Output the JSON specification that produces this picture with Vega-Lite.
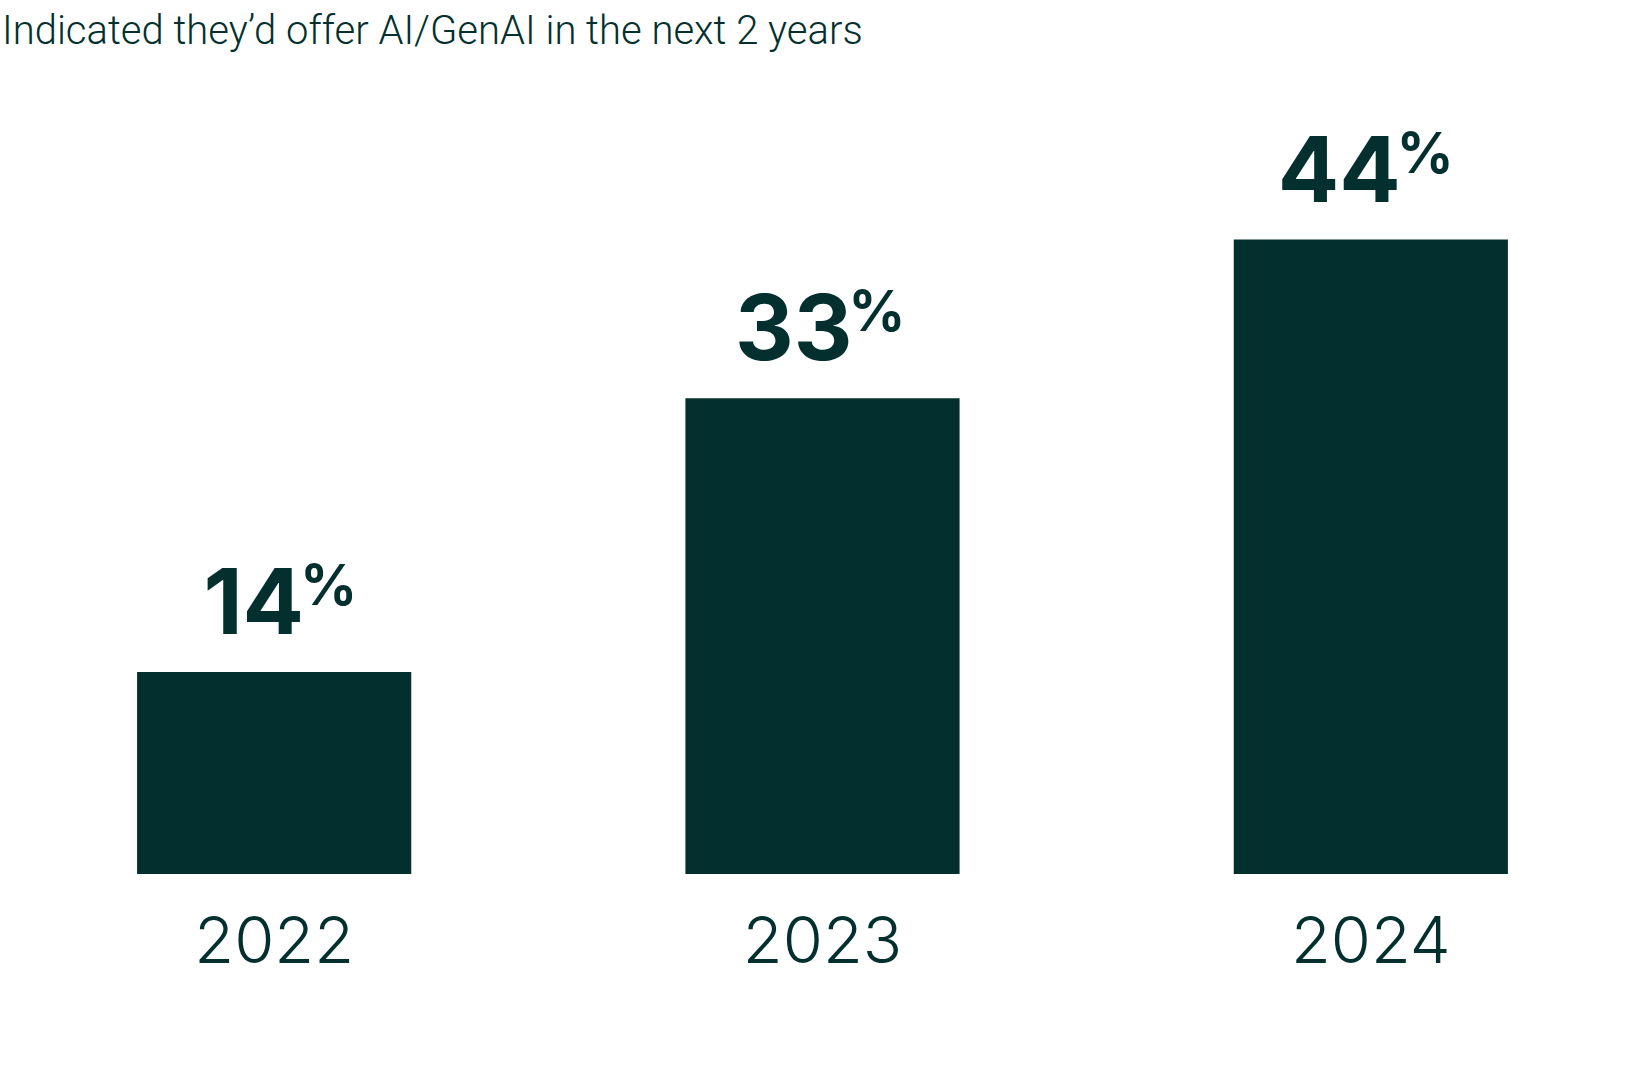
{
  "$schema": "https://vega.github.io/schema/vega-lite/v6.json",
  "width": 1645,
  "height": 814,
  "autosize": "none",
  "padding": {"top": 60, "left": 0, "right": 3, "bottom": 211},
  "background": "white",
  "config": {"view": {"stroke": null}, "font": "Inter"},
  "title": {
    "text": "Indicated they’d offer AI/GenAI in the next 2 years",
    "anchor": "start",
    "frame": "group",
    "orient": "top",
    "baseline": "alphabetic",
    "offset": 16,
    "dy": 40,
    "dx": 2,
    "font": "Roboto",
    "fontSize": 40,
    "fontWeight": 300,
    "color": "#03302F"
  },
  "data": {
    "values": [
      {"year": "2022", "value": 14},
      {"year": "2023", "value": 33},
      {"year": "2024", "value": 44}
    ]
  },
  "encoding": {
    "x": {
      "field": "year",
      "type": "nominal",
      "sort": null,
      "scale": {"paddingInner": 0.5, "paddingOuter": 0.25},
      "axis": {
        "title": null,
        "domain": false,
        "ticks": false,
        "labelAngle": 0,
        "labelBaseline": "alphabetic",
        "labelPadding": 88,
        "labelFont": "Inter",
        "labelFontSize": 65,
        "labelFontWeight": 300,
        "labelColor": "#03302F"
      }
    },
    "y": {
      "field": "value",
      "type": "quantitative",
      "scale": {"domain": [0, 56.45], "nice": false, "zero": true},
      "axis": null
    }
  },
  "layer": [
    {"mark": {"type": "bar", "color": "#03302F"}},
    {
      "mark": {
        "type": "text",
        "align": "right",
        "baseline": "alphabetic",
        "dx": 30,
        "dy": -38,
        "font": "Inter",
        "fontSize": 91,
        "fontWeight": 700,
        "color": "#03302F"
      },
      "encoding": {"text": {"field": "value", "type": "quantitative"}}
    },
    {
      "mark": {
        "type": "text",
        "align": "left",
        "baseline": "alphabetic",
        "dx": 26,
        "dy": -67,
        "font": "Inter",
        "fontSize": 56,
        "fontWeight": 700,
        "color": "#03302F",
        "text": "%"
      }
    }
  ]
}
